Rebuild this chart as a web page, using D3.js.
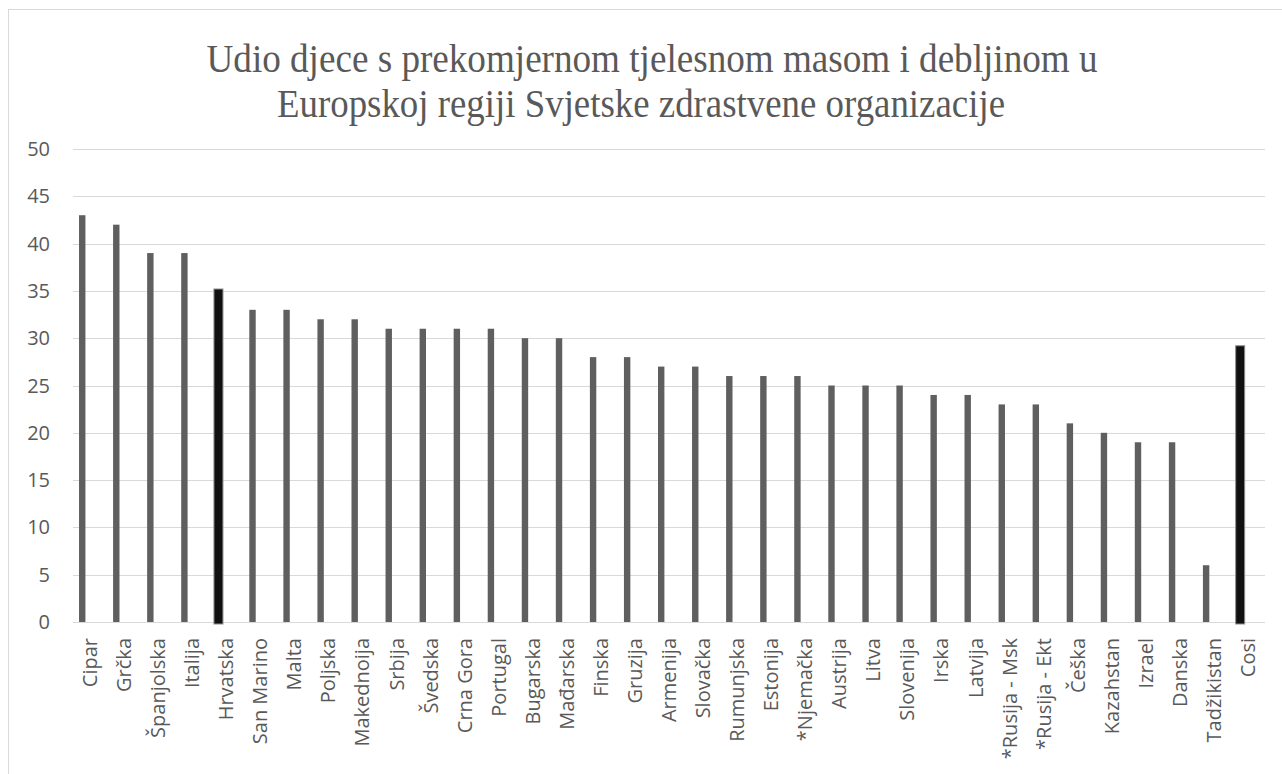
<!DOCTYPE html>
<html>
<head>
<meta charset="utf-8">
<script src="https://cdn.jsdelivr.net/npm/d3@7"></script>
<style>
  body { margin: 0; background: #fff; }
</style>
</head>
<body>
<div id="chart"></div>
<script>
const countries = ["Cipar", "Grčka", "Španjolska", "Italija", "Hrvatska", "San Marino", "Malta", "Poljska",
    "Makednoija", "Srbija", "Švedska", "Crna Gora", "Portugal", "Bugarska", "Mađarska", "Finska", "Gruzija",
    "Armenija", "Slovačka", "Rumunjska", "Estonija", "*Njemačka", "Austrija", "Litva", "Slovenija", "Irska",
    "Latvija", "*Rusija - Msk", "*Rusija - Ekt", "Češka", "Kazahstan", "Izrael", "Danska", "Tadžikistan", "Cosi"];
const values = [43, 42, 39, 39, 35.2, 33, 33, 32, 32, 31, 31, 31, 31, 30, 30, 28, 28,
    27, 27, 26, 26, 26, 25, 25, 25, 24, 24, 23, 23, 21, 20, 19, 19, 6, 29.2];
const highlighted = ["Hrvatska", "Cosi"];
const yTicks = [0, 5, 10, 15, 20, 25, 30, 35, 40, 45, 50];
const titleLines = ["Udio djece s prekomjernom tjelesnom masom i debljinom u",
    "Europskoj regiji Svjetske zdrastvene organizacije"];

function chart() {
    const width = 1282,
        height = 774;
    const left = 73, right = 1265, top = 149, bottom = 622;

    const svg = d3.select("#chart").append("svg")
        .attr("width", width)
        .attr("height", height);

    // outer frame
    svg.append("rect")
        .attr("x", 8.5).attr("y", 9.5)
        .attr("width", 1400).attr("height", 1000)
        .attr("fill", "none")
        .attr("stroke", "#d9d9d9");

    const data = countries.map((c, i) => ({name: c, value: values[i]}));

    const x = d3.scaleBand()
        .domain(countries)
        .range([left, right])
        .paddingInner(0)
        .paddingOuter(0);

    const y = d3.scaleLinear()
        .domain([0, 50])
        .range([bottom, top]);

    // title
    const titleWidths = [891, 728];
    const titleCentres = [652, 641];
    svg.append("g")
        .selectAll("text")
        .data(titleLines)
        .join("text")
        .attr("x", (d, i) => titleCentres[i])
        .attr("y", (d, i) => 72 + i * 45)
        .attr("text-anchor", "middle")
        .attr("textLength", (d, i) => titleWidths[i])
        .attr("lengthAdjust", "spacingAndGlyphs")
        .attr("fill", "#595959")
        .style("font", "40px 'Liberation Serif', 'Times New Roman', serif")
        .text(d => d);

    // grid
    svg.append("g")
        .selectAll("line")
        .data(yTicks)
        .join("line")
        .attr("x1", left).attr("x2", right)
        .attr("y1", d => Math.round(y(d)) + 0.5)
        .attr("y2", d => Math.round(y(d)) + 0.5)
        .attr("stroke", "#d9d9d9")
        .attr("stroke-width", 1);

    // y tick labels
    svg.append("g")
        .selectAll("text")
        .data(yTicks)
        .join("text")
        .attr("x", 50)
        .attr("y", d => y(d))
        .attr("dy", "0.35em")
        .attr("text-anchor", "end")
        .attr("fill", "#595959")
        .style("font", "20px 'Open Sans', sans-serif")
        .text(d => d);

    // bars (sit left of the band centre, as in the source chart)
    const offset = -7.8;
    const bars = svg.append("g");
    bars.selectAll("rect.plain")
        .data(data.filter(d => !highlighted.includes(d.name)))
        .join("rect")
        .attr("class", "plain")
        .attr("x", d => x(d.name) + x.bandwidth() / 2 + offset - 3.2)
        .attr("width", 6.4)
        .attr("y", d => y(d.value))
        .attr("height", d => y(0) - y(d.value))
        .attr("fill", "#5f5f5f");

    bars.selectAll("rect.hl")
        .data(data.filter(d => highlighted.includes(d.name)))
        .join("rect")
        .attr("class", "hl")
        .attr("x", d => x(d.name) + x.bandwidth() / 2 + offset - 4.5)
        .attr("width", 9)
        .attr("y", d => y(d.value))
        .attr("height", d => y(0) - y(d.value) + 2)
        .attr("fill", "#111")
        .attr("stroke", "#8c8c8c")
        .attr("stroke-width", 1);

    // x labels
    svg.append("g")
        .selectAll("text")
        .data(countries)
        .join("text")
        .attr("transform", d => `translate(${x(d) + x.bandwidth() / 2},638) rotate(-90)`)
        .attr("dy", "0.35em")
        .attr("text-anchor", "end")
        .attr("fill", "#595959")
        .style("font", "20px 'Open Sans', sans-serif")
        .text(d => d);
}

window.onload = function() {
    chart();
};
</script>
</body>
</html>
